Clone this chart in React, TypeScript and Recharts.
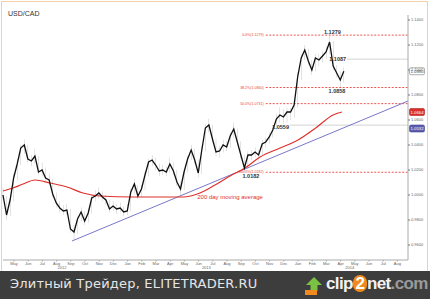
import React from "react";
import { ComposedChart, Bar, Line, XAxis, YAxis, ReferenceLine, ReferenceDot } from "recharts";

const months = ["May","Jun","Jul","Aug","Sep","Oct","Nov","Dec","Jan","Feb","Mar","Apr","May","Jun","Jul","Aug","Sep","Oct","Nov","Dec","Jan","Feb","Mar","Apr","May","Jun","Jul","Aug"];
const years = ["2012", "2013", "2014"];
const yearTicks = [4.16, 14.32, 24.42];
const priceTicks = [0.96, 0.98, 1.0, 1.02, 1.04, 1.06, 1.08, 1.1, 1.12, 1.14];

const closes = [
  1.0000, 0.9840, 0.9960, 1.0136, 1.0248, 1.0376, 1.0400, 1.0288, 1.0272, 1.0312,
  1.0184, 1.0200, 1.0136, 1.0120, 1.0008, 0.9936, 0.9896, 0.9872, 0.9880, 0.9728,
  0.9704, 0.9808, 0.9864, 0.9792, 0.9856, 0.9976, 0.9992, 1.0016, 0.9984, 0.9960,
  0.9888, 0.9912, 0.9888, 0.9896, 0.9864, 0.9872, 1.0024, 1.0088, 0.9992, 1.0048,
  1.0160, 1.0264, 1.0280, 1.0240, 1.0192, 1.0200, 1.0184, 1.0248, 1.0192, 1.0104,
  1.0048, 1.0184, 1.0288, 1.0360, 1.0280, 1.0176, 1.0360, 1.0536, 1.0560, 1.0448,
  1.0344, 1.0352, 1.0400, 1.0384, 1.0472, 1.0528, 1.0424, 1.0320, 1.0216, 1.0320,
  1.0320, 1.0344, 1.0320, 1.0408, 1.0424, 1.0464, 1.0520, 1.0608, 1.0640, 1.0624,
  1.0664, 1.0664, 1.0720, 1.0944, 1.1096, 1.1160, 1.1072, 1.1000, 1.1096, 1.1080,
  1.1112, 1.1144, 1.1224, 1.1032, 1.0976, 1.0920, 1.0990,
];
const highs = [
  1.0060, 0.9990, 1.0000, 1.0170, 1.0290, 1.0400, 1.0445, 1.0400, 1.0320, 1.0370,
  1.0310, 1.0260, 1.0220, 1.0170, 1.0130, 1.0020, 0.9950, 0.9920, 0.9930, 0.9890,
  0.9760, 0.9830, 0.9900, 0.9870, 0.9890, 1.0000, 1.0040, 1.0060, 1.0030, 1.0000,
  0.9960, 0.9950, 0.9930, 0.9940, 0.9910, 0.9930, 1.0050, 1.0130, 1.0080, 1.0080,
  1.0190, 1.0290, 1.0320, 1.0300, 1.0250, 1.0240, 1.0230, 1.0300, 1.0260, 1.0200,
  1.0110, 1.0210, 1.0310, 1.0400, 1.0370, 1.0280, 1.0390, 1.0570, 1.0610, 1.0560,
  1.0450, 1.0390, 1.0440, 1.0430, 1.0500, 1.0580, 1.0530, 1.0430, 1.0320, 1.0350,
  1.0360, 1.0380, 1.0360, 1.0440, 1.0460, 1.0500, 1.0560, 1.0650, 1.0700, 1.0690,
  1.0700, 1.0700, 1.0760, 1.0980, 1.1130, 1.1200, 1.1170, 1.1080, 1.1130, 1.1130,
  1.1150, 1.1190, 1.1279, 1.1230, 1.1040, 1.0990, 1.1020,
];
const lows = [
  0.9960, 0.9800, 0.9830, 0.9950, 1.0120, 1.0240, 1.0330, 1.0260, 1.0230, 1.0250,
  1.0160, 1.0150, 1.0110, 1.0080, 0.9980, 0.9900, 0.9860, 0.9840, 0.9840, 0.9700,
  0.9640, 0.9690, 0.9790, 0.9760, 0.9780, 0.9850, 0.9950, 0.9970, 0.9950, 0.9920,
  0.9860, 0.9870, 0.9850, 0.9860, 0.9830, 0.9840, 0.9870, 1.0010, 0.9970, 0.9980,
  1.0040, 1.0150, 1.0230, 1.0200, 1.0150, 1.0160, 1.0150, 1.0180, 1.0160, 1.0070,
  0.9990, 1.0040, 1.0180, 1.0280, 1.0250, 1.0140, 1.0170, 1.0350, 1.0500, 1.0420,
  1.0310, 1.0300, 1.0340, 1.0350, 1.0380, 1.0460, 1.0400, 1.0290, 1.0182, 1.0210,
  1.0280, 1.0300, 1.0270, 1.0320, 1.0380, 1.0410, 1.0460, 1.0520, 1.0580, 1.0570,
  1.0580, 1.0600, 1.0620, 1.0700, 1.0920, 1.1080, 1.1040, 1.0960, 1.0990, 1.1030,
  1.1060, 1.1090, 1.1130, 1.1000, 1.0940, 1.0858, 1.0900,
];

const maTimes = [0, 0.7, 1.41, 2.25, 3.31, 4.51, 5.63, 6.83, 9.15, 11.55, 12.68, 13.87, 14.93, 15.99, 17.04, 18.1, 19.51, 20.77, 22.11, 23.24, 23.87];
const maValues = [1.0032, 1.0056, 1.0088, 1.012, 1.0096, 1.0064, 1.0016, 0.9992, 0.9984, 0.9984, 0.9984, 1.0016, 1.008, 1.0152, 1.0216, 1.0304, 1.0376, 1.044, 1.0544, 1.064, 1.0664];

const trendTimes = [4.86, 28.52];
const trendValues = [0.9632, 1.0752];
const trendNow = 1.0532;

const fibLevels = [1.1279, 1.086, 1.0731, 1.0182];
const fibLabels = ["0.0%(1.1279)", "38.2%(1.0860)", "50.0%(1.0731)", "100.0%(1.0182)"];
const fibStart = 18.5;

const grayLevels = [1.1087, 1.0559];
const grayStarts = [24.23, 20.21];

const X_MAX = 28.52;
const WEEK = 0.25;

const candleData = closes.map((c, i) => ({ t: i * WEEK, close: c, range: [lows[i], highs[i]] }));
const maData = maTimes.map((t, i) => ({ t, v: maValues[i] }));
const trendData = trendTimes.map((t, i) => ({ t, v: trendValues[i] }));
const monthTicks = months.map((_, k) => 0.775 + k);

const FONT = "'Liberation Sans', Arial, sans-serif";

const boxShape = (fill: string, stroke: string, color: string, text: string) => (props: any) => {
  const { cx, cy } = props;
  return (
    <g>
      <rect x={cx + 1.5} y={cy - 3.5} width={15} height={7} rx={1.5} fill={fill} stroke={stroke} strokeWidth={0.6} />
      <text x={cx + 9} y={cy + 1.6} textAnchor="middle" fontSize={4.3} fill={color} fontFamily={FONT}>{text}</text>
    </g>
  );
};

export default function App() {
  const lastClose = closes[closes.length - 1];
  const lastMa = maValues[maValues.length - 1];
  return (
    <div style={{ position: "fixed", left: 0, top: 0, width: 430, height: 299, background: "#fff", overflow: "hidden" }}>
      <div style={{ position: "absolute", left: 1, top: 1, width: 425, height: 280, border: "1px solid #f3cfa8" }} />
      <div style={{ position: "absolute", left: 8, top: 10, fontFamily: FONT, fontSize: 7, color: "#333" }}>USD/CAD</div>
      <div style={{ position: "absolute", left: 0, top: 0 }}>
        <ComposedChart width={430} height={271} margin={{ top: 15, right: 0, bottom: 0, left: 3 }} data={candleData} style={{ fontFamily: FONT }}>
          <XAxis
            xAxisId={0}
            dataKey="t"
            type="number"
            domain={[0, X_MAX]}
            ticks={monthTicks}
            interval={0}
            height={5}
            tickSize={1.5}
            tickMargin={0.5}
            tickFormatter={(v: number) => months[Math.round(v - 0.775)] ?? ""}
            tick={{ fontSize: 4, fill: "#666" }}
            axisLine={{ stroke: "#aaa" }}
            tickLine={{ stroke: "#aaa" }}
          />
          <XAxis
            xAxisId="yr"
            dataKey="t"
            type="number"
            domain={[0, X_MAX]}
            ticks={yearTicks}
            interval={0}
            height={6}
            tickSize={0}
            tickMargin={1.5}
            axisLine={false}
            tickLine={false}
            tickFormatter={(v: number) => years[yearTicks.indexOf(v)] ?? ""}
            tick={{ fontSize: 4, fill: "#666" }}
          />
          <YAxis
            orientation="right"
            width={22}
            domain={[0.948, 1.144]}
            ticks={priceTicks}
            interval={0}
            allowDataOverflow
            tickSize={2}
            tickMargin={1}
            tickFormatter={(v: number) => v.toFixed(4)}
            tick={{ fontSize: 4, fill: "#666" }}
            axisLine={{ stroke: "#aaa" }}
            tickLine={{ stroke: "#777" }}
          />
          {fibLevels.map((lv, i) => (
            <ReferenceLine
              key={"fib" + i}
              segment={[{ x: fibStart, y: lv }, { x: X_MAX, y: lv }]}
              stroke="#e8463e"
              strokeDasharray="2 1.5"
              strokeWidth={0.9}
              ifOverflow="visible"
            />
          ))}
          {fibLevels.map((lv, i) => (
            <ReferenceDot
              key={"fibl" + i}
              x={fibStart}
              y={lv}
              r={0}
              fill="none"
              stroke="none"
              ifOverflow="visible"
              label={{ value: fibLabels[i], position: "left", offset: 2, fontSize: 3.6, fill: "#e8463e", dy: i === 3 ? -1 : 0 }}
            />
          ))}
          {grayLevels.map((lv, i) => (
            <ReferenceLine
              key={"gr" + i}
              segment={[{ x: grayStarts[i], y: lv }, { x: X_MAX, y: lv }]}
              stroke="#cfcfcf"
              strokeWidth={0.9}
              ifOverflow="visible"
            />
          ))}
          {grayLevels.map((lv, i) => (
            <ReferenceDot
              key={"grl" + i}
              x={grayStarts[i]}
              y={lv}
              r={0}
              fill="none"
              stroke="none"
              ifOverflow="visible"
              label={{ value: lv.toFixed(4), position: "left", offset: 1, fontSize: 5.5, fontWeight: "bold", fill: "#333", dy: i === 1 ? 2 : 0 }}
            />
          ))}
          <Line data={trendData} dataKey="v" stroke="#7878c8" strokeWidth={1} dot={false} isAnimationActive={false} type="linear" />
          <Line data={maData} dataKey="v" stroke="#e0302c" strokeWidth={1.2} dot={false} isAnimationActive={false} type="monotone" />
          <Bar dataKey="range" barSize={2.6} fill="#262626" isAnimationActive={false} />
          <Line dataKey="close" stroke="#111" strokeWidth={1.3} dot={false} isAnimationActive={false} type="linear" />
          <ReferenceDot x={23.2} y={1.1279} r={0} fill="none" stroke="none" ifOverflow="visible"
            label={{ value: "1.1279", position: "top", offset: 1.5, fontSize: 5.5, fontWeight: "bold", fill: "#333" }} />
          <ReferenceDot x={23.52} y={1.0858} r={0} fill="none" stroke="none" ifOverflow="visible"
            label={{ value: "1.0858", position: "bottom", offset: 1.5, fontSize: 5.5, fontWeight: "bold", fill: "#333" }} />
          <ReferenceDot x={17.46} y={1.0182} r={0} fill="none" stroke="none" ifOverflow="visible"
            label={{ value: "1.0182", position: "bottom", offset: 1.5, fontSize: 5.5, fontWeight: "bold", fill: "#333" }} />
          <ReferenceDot x={15.99} y={0.9984} r={0} fill="none" stroke="none" ifOverflow="visible"
            label={{ value: "200 day moving average", position: "center", fontSize: 6, fill: "#e0302c" }} />
          <ReferenceDot x={X_MAX} y={lastClose} r={0} ifOverflow="visible" shape={boxShape("#fff", "#777", "#333", lastClose.toFixed(4))} />
          <ReferenceDot x={X_MAX} y={lastMa} r={0} ifOverflow="visible" shape={boxShape("#d9302c", "#b02020", "#fff", lastMa.toFixed(4))} />
          <ReferenceDot x={X_MAX} y={trendNow} r={0} ifOverflow="visible" shape={boxShape("#5c5cae", "#40408a", "#fff", trendNow.toFixed(4))} />
        </ComposedChart>
      </div>
      <div style={{ position: "absolute", left: 0, top: 271, width: 430, height: 28, background: "#3d3d3d" }}>
        <div style={{ position: "absolute", left: 10, top: 5, fontFamily: "'DejaVu Sans', sans-serif", fontSize: 13, color: "#e6e6e6", letterSpacing: 0.2, whiteSpace: "nowrap" }}>
          Элитный Трейдер, ELITETRADER.RU
        </div>
        <svg style={{ position: "absolute", left: 303, top: 5 }} width={22} height={20}>
          <polygon points="11,1 19,9 14.5,9 14.5,15 7.5,15 7.5,9 3,9" fill="#7cc242" />
          <rect x={2} y={14} width={12} height={5} fill="#f08a1e" />
        </svg>
        <div style={{ position: "absolute", left: 326, top: 3, fontFamily: "'Liberation Sans', Arial, sans-serif", fontWeight: "bold", fontSize: 17, letterSpacing: -0.6, whiteSpace: "nowrap", color: "#f2f2f2" }}>
          clip<span style={{ display: "inline-block", width: 14, height: 17, lineHeight: "17px", borderRadius: 8, background: "#f08a1e", textAlign: "center", color: "#fff" }}>2</span>net<span style={{ color: "#9a9a9a", fontWeight: "bold" }}>.com</span>
        </div>
      </div>
    </div>
  );
}
